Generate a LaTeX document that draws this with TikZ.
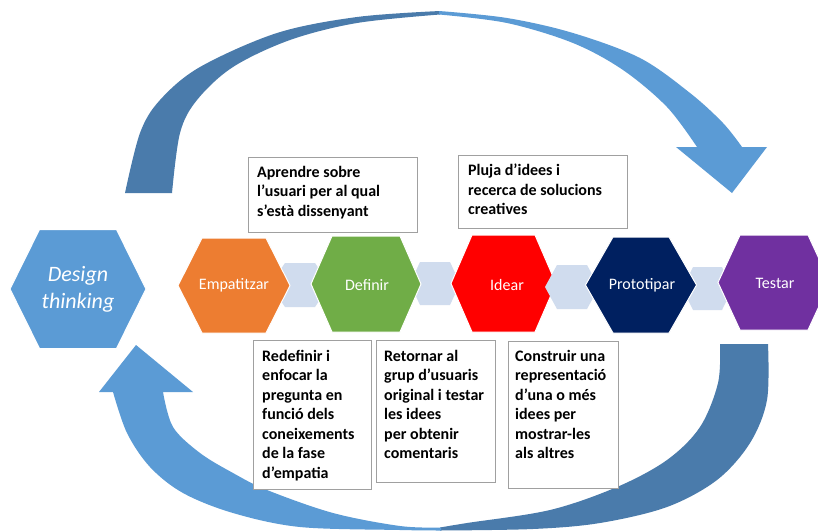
\documentclass[tikz,border=0pt]{standalone}
\usepackage{fontspec}
\setmainfont{Carlito}
\usetikzlibrary{calc}

\definecolor{arclight}{HTML}{5B9BD5}
\definecolor{arcdark}{HTML}{4A7BAB}
\definecolor{dtblue}{HTML}{5B9BD5}
\definecolor{empor}{HTML}{ED7D31}
\definecolor{defgr}{HTML}{70AD47}
\definecolor{idred}{HTML}{FF0000}
\definecolor{prnavy}{HTML}{002060}
\definecolor{tepurp}{HTML}{7030A0}
\definecolor{linkhex}{HTML}{D0DCEE}
\definecolor{boxline}{HTML}{A0A0A0}

% hexagon with flat top: centre x, centre y, half width, half top edge, half height, style
\newcommand\hexpath[6]{%
  \path[#6] (#1-#3,#2) -- (#1-#4,#2-#5) -- (#1+#4,#2-#5) -- (#1+#3,#2)
    -- (#1+#4,#2+#5) -- (#1-#4,#2+#5) -- cycle;}

\begin{document}
\begin{tikzpicture}[x=1pt,y=-1pt,
  phase/.style={draw=white, line width=1pt},
  link/.style={fill=linkhex},
  hexlabel/.style={text=white, inner sep=0pt, font=\fontsize{16}{19}\selectfont},
  infobox/.style={draw=boxline, line width=1.4pt, fill=white, inner sep=0pt, anchor=north west},
  infotext/.style={inner sep=0pt, anchor=north west, align=left,
                   font=\bfseries\fontsize{16}{19.5}\selectfont},
  sm/.style={smooth, tension=0.55}]

\clip (0,0) rectangle (818,530);
\fill[white] (0,0) rectangle (818,530);

% upper curved arrow (rear half darker, front half lighter)
\fill[arcdark]
  plot[sm] coordinates {(125,193) (140,133) (160,100) (200,67) (277,33) (357,17) (440,11)}
  -- plot[sm] coordinates {(440,14.5) (357,23) (290,40) (233,67) (197,100) (180,133) (172,193)}
  -- cycle;
\fill[arclight]
  plot[sm] coordinates {(439,11) (507,18) (573,33) (640,58) (690,93) (723,123) (742,147)}
  -- (767,147) -- (732,193) -- (676,147)
  -- plot[sm] coordinates {(697,147) (667,107) (623,70) (573,43) (507,23) (439,14.5)}
  -- cycle;

% lower curved arrow
\fill[arcdark]
  plot[sm] coordinates {(768,344) (767,400) (750,443) (717,480) (667,507) (600,523) (533,529) (440,530.5)}
  -- plot[sm] coordinates {(440,527.5) (467,523) (550,510) (617,487) (667,460) (700,427) (718,383) (720,344)}
  -- cycle;
\fill[arclight]
  plot[sm] coordinates {(441,530.5) (400,530) (300,527) (233,513) (183,493) (150,467) (127,433) (113,392)}
  -- (99,392) -- (136,345) -- (193,392)
  -- plot[sm] coordinates {(163,392) (173,427) (200,453) (233,473) (267,490) (333,513) (400,526) (441,527.5)}
  -- cycle;

% links between the phases
\hexpath{300}{285}{30}{15}{22}{link}
\hexpath{435}{283.5}{25}{15}{21.5}{link}
\hexpath{707.5}{288.5}{25}{14.5}{21.5}{link}

% phases
\hexpath{78}{289}{68}{38.5}{59.5}{phase, fill=dtblue}
\hexpath{234}{285.5}{56}{32}{47.5}{phase, fill=empor}
\hexpath{366}{284}{55}{34}{48}{phase, fill=defgr}
\hexpath{503.5}{283.5}{52.5}{31.5}{48.5}{phase, fill=idred}
\hexpath{572}{287}{27}{15}{22}{link}
\hexpath{641}{285}{55.5}{28}{48}{phase, fill=prnavy}
\hexpath{774}{282.5}{56}{34}{47.5}{phase, fill=tepurp}

\node[hexlabel, align=center, font=\itshape\fontsize{22}{27}\selectfont] (dt) at (78,289) {Design\\thinking};
\node[hexlabel] (emp) at (234,285) {Empatitzar};
\node[hexlabel] (def) at (367,285) {Definir};
\node[hexlabel] (ide) at (507,285) {Idear};
\node[hexlabel] (pro) at (642,285) {Prototipar};
\node[hexlabel] (tes) at (775,283) {Testar};

% description boxes
\node[infobox, minimum width=169pt, minimum height=75pt] (b1) at (248,157) {};
\node[infotext] (t1) at ($(b1.north west)+(9,9)$) {Aprendre sobre\\l’usuari per al qual\\s’està dissenyant};

\node[infobox, minimum width=169pt, minimum height=73pt] (b2) at (458,155) {};
\node[infotext] (t2) at ($(b2.north west)+(10,9)$) {Pluja d’idees i\\recerca de solucions\\creatives};

\node[infobox, minimum width=118pt, minimum height=149pt] (bA) at (253,340) {};
\node[infotext] (tA) at ($(bA.north west)+(9,10)$) {Redefinir i\\enfocar la\\pregunta en\\funció dels\\coneixements\\de la fase\\d’empatia};

\node[infobox, minimum width=119pt, minimum height=142pt] (bB) at (376,340) {};
\node[infotext] (tB) at ($(bB.north west)+(8,10)$) {Retornar al\\grup d’usuaris\\original i testar\\les idees\\per obtenir\\comentaris};

\node[infobox, minimum width=110pt, minimum height=147pt] (bC) at (508,341) {};
\node[infotext] (tC) at ($(bC.north west)+(7,9)$) {Construir una\\representació\\d’una o més\\idees per\\mostrar-les\\als altres};

\end{tikzpicture}
\end{document}
